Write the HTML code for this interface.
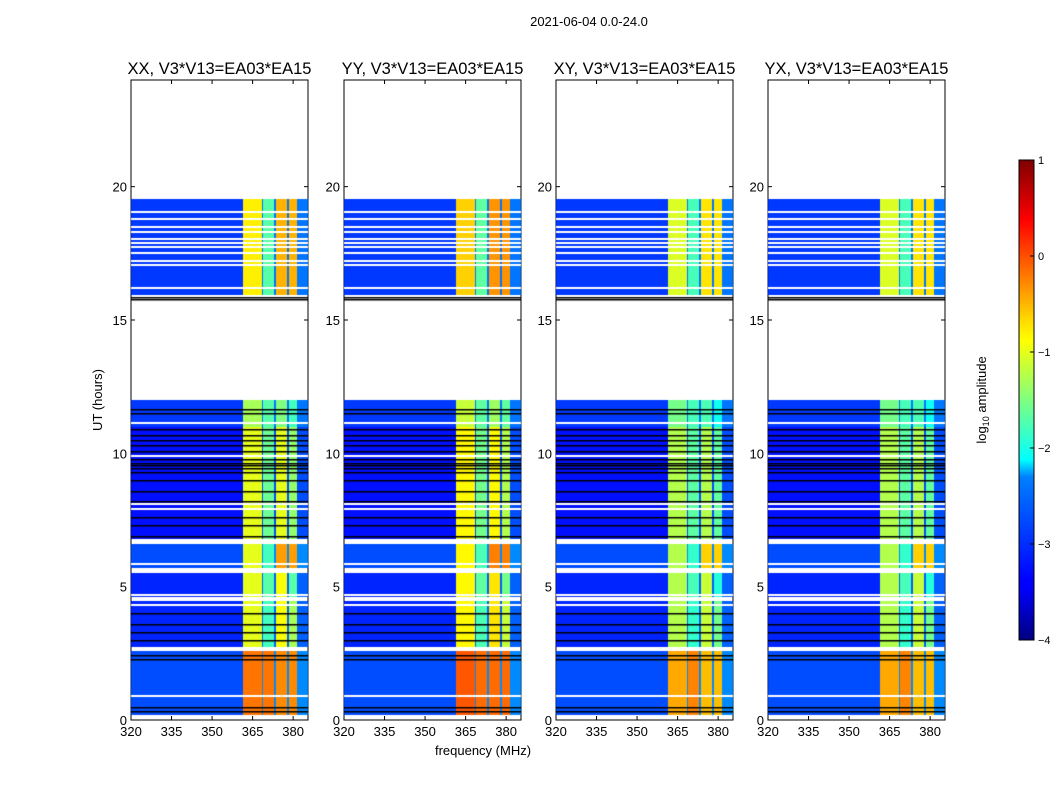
<!DOCTYPE html>
<html><head><meta charset="utf-8"><style>
body{margin:0;background:#fff;width:1050px;height:800px;overflow:hidden;font-family:"Liberation Sans",sans-serif;}
</style></head><body>
<svg id="root" width="1050" height="800" xmlns="http://www.w3.org/2000/svg">
<defs>
<linearGradient id="jet" x1="0" y1="1" x2="0" y2="0">
<stop offset="0" stop-color="#00007f"/><stop offset="0.11" stop-color="#0000ff"/><stop offset="0.125" stop-color="#0000ff"/>
<stop offset="0.34" stop-color="#0080ff"/><stop offset="0.375" stop-color="#00ffff"/><stop offset="0.5" stop-color="#80ff80"/>
<stop offset="0.625" stop-color="#ffff00"/><stop offset="0.66" stop-color="#ffe000"/><stop offset="0.875" stop-color="#ff0000"/><stop offset="1" stop-color="#7f0000"/>
</linearGradient>
</defs>
<text x="589" y="26" font-size="13" text-anchor="middle">2021-06-04 0.0-24.0</text>
<text x="483" y="755" font-size="13" text-anchor="middle">frequency (MHz)</text>
<text transform="translate(102,400) rotate(-90)" font-size="13" text-anchor="middle">UT (hours)</text>
<g id="panels"></g>
<rect x="1019" y="160" width="15" height="480" fill="url(#jet)" stroke="#000" stroke-width="1"/>
<g id="cbticks"></g>
<text transform="translate(986,400) rotate(-90)" font-size="13" text-anchor="middle">log<tspan font-size="9" dy="3">10</tspan><tspan dy="-3"> amplitude</tspan></text>
</svg>
<canvas id="cv" width="1050" height="800" style="position:absolute;left:0;top:0;pointer-events:none"></canvas>
<script>
// ---- data ----
const panelTitles=["XX, V3*V13=EA03*EA15","YY, V3*V13=EA03*EA15","XY, V3*V13=EA03*EA15","YX, V3*V13=EA03*EA15"];
const xTicks=[320,335,350,365,380];
const yTicks=[0,5,10,15,20];
const cbTicks=[1,0,-1,-2,-3,-4];
// time segments (hours) with background and four band levels (log10 amplitude)
const segStart=[0.2,2.75,4.6,5.7,6.8,11.0,15.95];
const segEnd=[2.6,4.45,5.5,6.6,11.0,12.0,19.55];
const segBg=[-3.0,-3.2,-3.2,-3.0,-3.3,-3.1,-3.1];
const segBand1=[-0.2,-1.0,-1.0,-1.0,-1.0,-1.3,-0.8];
const segBand2=[-0.2,-1.8,-1.7,-1.8,-1.6,-1.7,-1.7];
const segBand3=[-0.3,-0.9,-0.9,-0.4,-1.0,-1.5,-0.5];
const segBand4=[-0.3,-1.3,-1.7,-0.4,-1.4,-1.8,-0.5];
const panelBandOffset=[0,0.15,-0.25,-0.25];
const bandLo=[361.5,368.9,373.6,378.4];
const bandHi=[368.4,373.1,377.9,381.4];
const whiteLines=[0.9,4.3,4.7,5.85,7.9,8.1,9.9,11.15,16.2,17.05,17.2,17.5,17.75,17.9,18.05,18.3,18.5,18.8,19.05];
const blackLines=[0.35,0.5,2.3,2.45,3.0,3.3,3.6,4.0,6.9,7.3,7.6,8.2,8.6,9.0,9.3,9.45,9.55,9.65,9.8,10.1,10.3,10.5,10.7,10.9,11.5,11.65,15.8,15.85];
// ---- layout ----
const panelX=[131,344,556,768], PW=177, PT=80, PB=720;
const fx=(f,i)=>panelX[i]+(f-320)*PW/65.5;
const fy=h=>PB-(h/24)*(PB-PT);
const cby=v=>640-(v+4)/5*480;
function jet(v){let t=Math.max(0,Math.min(1,(v+4)/5));const c=x=>Math.round(255*Math.max(0,Math.min(1,x)));
return [c(1.5-Math.abs(4*t-3)),c(1.5-Math.abs(4*t-2)),c(1.5-Math.abs(4*t-1))];}
const NS="http://www.w3.org/2000/svg";
const g=document.getElementById('panels');
function mk(tag,attrs,parent){const e=document.createElementNS(NS,tag);for(const k in attrs)e.setAttribute(k,attrs[k]);parent.appendChild(e);return e;}
const ctx=document.getElementById('cv').getContext('2d');
for(let p=0;p<4;p++){
  const x0=panelX[p];
  for(let s=0;s<segStart.length;s++){
    const bands=[segBand1[s],segBand2[s],segBand3[s],segBand4[s]];
    const ya=Math.round(fy(segEnd[s])), yb=Math.round(fy(segStart[s]));
    for(let px=0;px<PW;px++){
      const f=320+(px+0.5)*65.5/PW;
      let v=segBg[s]+(f>381.5?0.3:0);
      let inB=false;
      for(let b=0;b<4;b++){if(f>=bandLo[b]&&f<bandHi[b]){v=bands[b]+panelBandOffset[p]*(b===1?0.3:1);inB=true;}}
      if(!inB&&f>=bandHi[0]&&f<bandLo[3]+0.1)v=segBg[s]+0.3;
      const c=jet(v);ctx.fillStyle=`rgb(${c[0]},${c[1]},${c[2]})`;ctx.fillRect(x0+px,ya,1,yb-ya);
    }
  }
  ctx.fillStyle='#fff';
  for(const h of whiteLines)ctx.fillRect(x0,Math.round(fy(h))-1,PW,2);
  ctx.fillStyle='#000';
  for(const h of blackLines)ctx.fillRect(x0,Math.round(fy(h)),PW,1.5);
  const pg=mk('g',{},g);
  
  
  const fr=mk('rect',{x:x0,y:PT,width:PW,height:PB-PT,fill:'none',stroke:'#000','stroke-width':1},pg);
  
  
  const t=mk('text',{x:x0+PW/2,y:74,'font-size':16.5,'text-anchor':'middle'},pg);t.textContent=panelTitles[p];
  
  
  for(const v of xTicks){const x=fx(v,p);
    mk('line',{x1:x,x2:x,y1:PB,y2:PB-4,stroke:'#000'},pg);mk('line',{x1:x,x2:x,y1:PT,y2:PT+4,stroke:'#000'},pg);
    const l=mk('text',{x:x,y:736,'font-size':13,'text-anchor':'middle'},pg);l.textContent=v;
    
    }
  for(const v of yTicks){const y=fy(v);
    mk('line',{x1:x0,x2:x0+4,y1:y,y2:y,stroke:'#000'},pg);mk('line',{x1:x0+PW,x2:x0+PW-4,y1:y,y2:y,stroke:'#000'},pg);
    const l=mk('text',{x:x0-4,y:y+5,'font-size':13,'text-anchor':'end'},pg);l.textContent=v;
    
    }
}
const cg=document.getElementById('cbticks');
for(const v of cbTicks){const y=cby(v);
  mk('line',{x1:1030,x2:1034,y1:y,y2:y,stroke:'#000'},cg);
  const l=mk('text',{x:1038,y:y+4,'font-size':11},cg);l.textContent=v<0?'\u2212'+(-v):v;
  
  }
</script>
</body></html>
